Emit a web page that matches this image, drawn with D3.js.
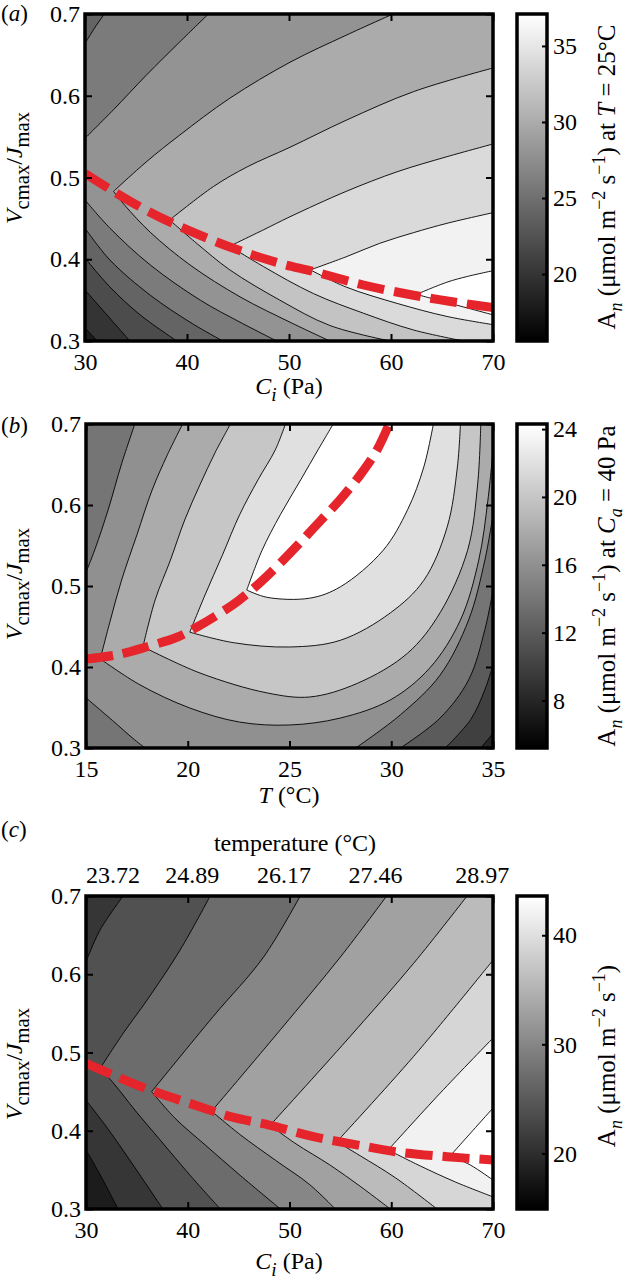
<!DOCTYPE html>
<html>
<head>
<meta charset="utf-8">
<script src="https://cdnjs.cloudflare.com/ajax/libs/d3/7.8.5/d3.min.js"></script>
<style>
  body { margin: 0; background: #fff; }
  svg text { font-family: "Liberation Serif", "Times New Roman", serif; fill: #000; white-space: pre; }
</style>
</head>
<body>
<svg id="fig" width="628" height="1285"></svg>
<script>
// ---- panel (a): An at T = 25 C, over Ci and Vcmax/Jmax ----
const aXTicks = [30, 40, 50, 60, 70];
const aYTicks = [0.3, 0.4, 0.5, 0.6, 0.7];
const aColorRange = [15.6, 37.1];
const aColorTicks = [20, 25, 30, 35];
// each contour: level and its pieces as [Ci, Vcmax/Jmax]
const aContours = [
  { level: 18, segs: [[[30, 0.316], [31.2, 0.3]]] },
  { level: 20, segs: [[[30, 0.3624], [32, 0.334], [34.4, 0.3]]] },
  { level: 22, segs: [[[30, 0.4015], [32.45, 0.366], [35.4, 0.332], [39, 0.3]]] },
  { level: 24, segs: [[[31.9, 0.7], [31, 0.684], [30, 0.664]],
                      [[30, 0.438], [32.45, 0.399], [36.4, 0.356], [40.3, 0.323], [43.5, 0.3]]] },
  { level: 26, segs: [[[42.1, 0.7], [39.3, 0.666], [36, 0.625], [32.8, 0.583], [30, 0.548]],
                      [[30, 0.4725], [32.45, 0.438], [36.4, 0.393], [41.3, 0.35], [45.2, 0.323], [48.8, 0.3]]] },
  { level: 28, segs: [[[60.2, 0.7], [55.6, 0.674], [50.1, 0.641], [44.2, 0.597], [39.3, 0.552], [36, 0.519], [32.8, 0.483]],
                      [[32.8, 0.483], [33.9, 0.466], [36.4, 0.433], [40.3, 0.393], [45.2, 0.354], [50.1, 0.323], [54, 0.3]]] },
  { level: 30, segs: [[[70, 0.634], [62.2, 0.605], [55.6, 0.57], [50.1, 0.537], [45.9, 0.513], [42.6, 0.489], [38.3, 0.448]],
                      [[38.3, 0.448], [40.9, 0.42], [44.2, 0.387], [49.1, 0.35], [54, 0.319], [59.9, 0.3]]] },
  { level: 32, segs: [[[70, 0.541], [65.5, 0.5255], [60.6, 0.507], [55.6, 0.483], [50.1, 0.452], [47.5, 0.436], [44.2, 0.416]],
                      [[44.2, 0.416], [47.5, 0.391], [52.4, 0.358], [57.3, 0.334], [62.2, 0.3135], [67.1, 0.3]]] },
  { level: 34, segs: [[[70, 0.457], [65.5, 0.444], [62.2, 0.4325], [58.9, 0.4195], [55.6, 0.403], [52.1, 0.387]],
                      [[52.1, 0.387], [55.6, 0.366], [60.6, 0.346], [65.5, 0.33], [70, 0.32]]] },
  { level: 36, segs: [[[70, 0.386], [67.5, 0.379], [65.5, 0.372], [62.5, 0.357]],
                      [[62.5, 0.357], [65.5, 0.347], [70, 0.332]]] }
];
const aOptimum = [[30, 0.505], [32.8, 0.483], [36, 0.46], [39.3, 0.44], [44.2, 0.415], [49.1, 0.395],
                  [52.4, 0.385], [57.3, 0.3685], [62.2, 0.356], [66, 0.348], [70, 0.341]];
const aPeak = [69, 0.35];

// ---- panel (b): An at Ca = 40 Pa, over T and Vcmax/Jmax ----
const bXTicks = [15, 20, 25, 30, 35];
const bYTicks = [0.3, 0.4, 0.5, 0.6, 0.7];
const bColorRange = [5.2, 24.3];
const bColorTicks = [8, 12, 16, 20, 24];
const bContours = [
  { level: 8, segs: [[[34.4, 0.3], [35, 0.318]]] },
  { level: 10, segs: [[[32.65, 0.3], [33.9, 0.335], [34.6, 0.372], [35, 0.4025]]] },
  { level: 12, segs: [[[30.45, 0.3], [32.4, 0.337], [33.8, 0.384], [34.6, 0.446], [35, 0.495]]] },
  { level: 14, segs: [[[17.4, 0.7], [16.75, 0.651], [16.1, 0.595], [15.45, 0.546], [15, 0.517]],
                      [[15, 0.362], [16.3, 0.334], [17.3, 0.312], [17.9, 0.3]],
                      [[28.25, 0.3], [30.45, 0.341], [32.4, 0.39], [33.8, 0.458], [34.6, 0.532], [35, 0.588]]] },
  { level: 16, segs: [[[19.75, 0.7], [19, 0.662], [18.25, 0.6185], [17.5, 0.563], [16.75, 0.5074], [16.2, 0.458], [15.7, 0.41]],
                      [[15.7, 0.41], [17.65, 0.378], [20.1, 0.3494], [22.55, 0.332], [25, 0.3284], [27.5, 0.337],
                       [29.95, 0.3593], [31.9, 0.399], [33.4, 0.458], [34.3, 0.532], [34.75, 0.606], [35, 0.668]]] },
  { level: 18, segs: [[[22.1, 0.7], [21.35, 0.665], [20.6, 0.625], [19.85, 0.5815], [19.15, 0.532], [18.4, 0.483], [17.8, 0.425]],
                      [[17.8, 0.425], [20.6, 0.3926], [23.9, 0.368], [26, 0.363], [28.35, 0.38], [30.8, 0.417],
                       [32.4, 0.467], [33.75, 0.544], [34.25, 0.627], [34.4, 0.7]]] },
  { level: 20, segs: [[[24.8, 0.7], [24.3, 0.668], [23.45, 0.631], [22.55, 0.588], [21.7, 0.538], [20.85, 0.489], [20.1, 0.443]],
                      [[20.1, 0.443], [22.25, 0.43], [25, 0.4247], [27.5, 0.433], [29.95, 0.4667], [31.6, 0.507],
                       [32.75, 0.573], [33.25, 0.647], [33.4, 0.7]]] },
  { level: 22, segs: [[[27.15, 0.7], [26.4, 0.668], [25.55, 0.631], [24.55, 0.588], [23.65, 0.544], [22.9, 0.495]],
                      [[22.9, 0.495], [23.9, 0.486], [26, 0.485], [27.5, 0.499], [29.6, 0.544], [30.8, 0.594],
                       [31.6, 0.647], [32.07, 0.7]]] }
];
const bOptimum = [[15, 0.41], [16.5, 0.415], [18, 0.425], [19.5, 0.437], [20.5, 0.45], [21.5, 0.465], [22.5, 0.482],
                  [23.5, 0.503], [24.5, 0.527], [25.5, 0.553], [26.5, 0.58], [27.5, 0.607], [28.5, 0.638],
                  [29.3, 0.668], [29.9, 0.7]];
const bPeak = [28.5, 0.66];

// ---- panel (c): An with temperature rising along Ci ----
const cXTicks = [30, 40, 50, 60, 70];
const cYTicks = [0.3, 0.4, 0.5, 0.6, 0.7];
const cColorRange = [14.9, 43.6];
const cColorTicks = [20, 30, 40];
const cTempAt = [32.6, 40.4, 49.4, 58.4, 68.9];
const cTempLabels = ["23.72", "24.89", "26.17", "27.46", "28.97"];
const cContours = [
  { level: 18, segs: [[[30, 0.3755], [31.4, 0.3435], [33.15, 0.3]]] },
  { level: 21, segs: [[[33.65, 0.7], [31.4, 0.657], [30, 0.616]],
                      [[30, 0.439], [31.9, 0.407], [34.3, 0.3625], [37.55, 0.3]]] },
  { level: 24, segs: [[[42.2, 0.7], [39.25, 0.631], [36, 0.567], [33.65, 0.5245], [31.4, 0.48]],
                      [[31.4, 0.48], [32.85, 0.4585], [34.8, 0.4265], [37.3, 0.388], [40.2, 0.3435], [43.2, 0.3]]] },
  { level: 27, segs: [[[51.05, 0.7], [47.45, 0.622], [42.5, 0.546], [36.45, 0.45]],
                      [[36.45, 0.45], [38.75, 0.416], [41.7, 0.382], [45.15, 0.343], [49.1, 0.3]]] },
  { level: 30, segs: [[[59.55, 0.7], [55, 0.622], [49.1, 0.529], [42.35, 0.425]],
                      [[42.35, 0.425], [45.15, 0.395], [48.6, 0.3625], [52, 0.331], [54.5, 0.3]]] },
  { level: 33, segs: [[[67.45, 0.7], [62.2, 0.614], [55.65, 0.516], [48.1, 0.407]],
                      [[48.1, 0.407], [50.55, 0.384], [54, 0.356], [56.95, 0.329], [59.9, 0.3]]] },
  { level: 36, segs: [[[70, 0.618], [62.2, 0.495], [54.65, 0.386]],
                      [[54.65, 0.386], [56.95, 0.368], [60.4, 0.34], [64.5, 0.3]]] },
  { level: 39, segs: [[[70, 0.5185], [64.8, 0.448], [59.7, 0.3755]],
                      [[59.7, 0.3755], [62.85, 0.355], [66.3, 0.3345], [70, 0.3155]]] },
  { level: 42, segs: [[[70, 0.429], [68, 0.4], [65.8, 0.368]],
                      [[65.8, 0.368], [67.8, 0.356], [70, 0.337]]] }
];
const cOptimum = [[30, 0.486], [32.7, 0.471], [36.3, 0.452], [40.2, 0.435], [44.2, 0.418], [48.1, 0.407],
                  [52.35, 0.3925], [56.6, 0.382], [60.55, 0.373], [65.5, 0.3668], [70, 0.3626]];
const cPeak = [69.3, 0.37];

// ---- drawing ----
const FS = 24;
const svg = d3.select("#fig");
const defs = svg.append("defs");

// text made of parts: {t, i: italic, sub, sup}
function richText(text, parts, fs, subRatio = 0.72) {
    let shift = 0;
    parts.forEach(p => {
        const target = p.sub ? fs * 0.28 : (p.sup ? -fs * 0.4 : 0);
        const ts = text.append("tspan").text(p.t);
        if (target !== shift) ts.attr("dy", target - shift);
        shift = target;
        if (p.i) ts.attr("font-style", "italic");
        if (p.sub || p.sup) ts.attr("font-size", fs * subRatio);
    });
}

// corners passed when walking the frame from one edge point to another
function boundaryWalk(from, to, box, dir) {
    const W = box.x1 - box.x0, H = box.y1 - box.y0, P = 2 * (W + H);
    const pos = p => {
        if (Math.abs(p[1] - box.y0) < 0.5) return p[0] - box.x0;
        if (Math.abs(p[0] - box.x1) < 0.5) return W + p[1] - box.y0;
        if (Math.abs(p[1] - box.y1) < 0.5) return W + H + box.x1 - p[0];
        return 2 * W + H + box.y1 - p[1];
    };
    const corners = [[0, [box.x0, box.y0]], [W, [box.x1, box.y0]], [W + H, [box.x1, box.y1]], [2 * W + H, [box.x0, box.y1]]];
    const s0 = pos(from), s1 = pos(to);
    const off = s => (((dir > 0 ? s - s0 : s0 - s) % P) + P) % P;
    const d = off(s1);
    return corners.filter(c => off(c[0]) > 0 && off(c[0]) < d)
        .sort((a, b) => off(a[0]) - off(b[0]))
        .map(c => c[1]);
}

function styleAxis(sel) {
    sel.select(".domain").remove();
    sel.selectAll(".tick line").attr("stroke", "#000").attr("stroke-width", 2);
    sel.selectAll(".tick text").attr("font-size", FS).attr("fill", "#000")
        .attr("font-family", '"Liberation Serif", "Times New Roman", serif');
}

function drawPanel(p) {
    const box = p.box;
    const x = d3.scaleLinear().domain(p.xDomain).range([box.x0, box.x1]);
    const y = d3.scaleLinear().domain([0.3, 0.7]).range([box.y1, box.y0]);
    const gray = d3.scaleLinear().domain(p.cDomain).range(["#000", "#fff"]).clamp(true);
    const toPx = d => [x(d[0]), y(d[1])];
    const smooth = d3.line().curve(d3.curveCatmullRom.alpha(0.5));
    const peak = toPx(p.peak);
    const levels = p.contours.map(c => c.level);

    const g = svg.append("g");
    defs.append("clipPath").attr("id", "clip-" + p.id).append("rect")
        .attr("x", box.x0).attr("y", box.y0).attr("width", box.x1 - box.x0).attr("height", box.y1 - box.y0);
    const plot = g.append("g").attr("clip-path", `url(#clip-${p.id})`);

    // filled bands, painted from the lowest level up
    plot.append("rect").attr("x", box.x0).attr("y", box.y0)
        .attr("width", box.x1 - box.x0).attr("height", box.y1 - box.y0)
        .attr("fill", gray(levels[0]));
    p.contours.forEach((c, i) => {
        const segs = c.segs.map(s => s.map(toPx));
        const raw = segs.flat();
        const start = raw[0], end = raw[raw.length - 1];
        let closing = boundaryWalk(end, start, box, 1);
        if (!d3.polygonContains(raw.concat(closing), peak)) closing = boundaryWalk(end, start, box, -1);
        let d = segs.map((s, k) => { const str = smooth(s); return k ? "L" + str.slice(1) : str; }).join("");
        d += closing.map(q => `L${q[0]},${q[1]}`).join("") + "Z";
        const upper = i + 1 < levels.length ? levels[i + 1] : p.cDomain[1];
        plot.append("path").attr("d", d).attr("fill", gray(upper));
    });

    // contour lines
    p.contours.forEach(c => c.segs.forEach(s => {
        plot.append("path").attr("d", smooth(s.map(toPx)))
            .attr("fill", "none").attr("stroke", "#000").attr("stroke-width", 0.9);
    }));

    // optimum Vcmax/Jmax
    plot.append("path").attr("d", d3.line().curve(d3.curveCatmullRom)(p.optimum.map(toPx)))
        .attr("fill", "none").attr("stroke", "#e5242b").attr("stroke-width", 9)
        .attr("stroke-dasharray", "27,10");

    // axes, MATLAB style ticks inside the box
    g.append("g").attr("transform", `translate(0,${box.y1})`)
        .call(d3.axisBottom(x).tickValues(p.xTicks).tickSize(-7).tickPadding(12).tickFormat(d3.format("d")))
        .call(styleAxis);
    g.append("g").attr("transform", `translate(0,${box.y0})`)
        .call(d3.axisTop(x).tickValues(p.xTicks).tickSize(-7).tickFormat(""))
        .call(styleAxis);
    g.append("g").attr("transform", `translate(${box.x0},0)`)
        .call(d3.axisLeft(y).tickValues(p.yTicks).tickSize(-7).tickPadding(5).tickFormat(d3.format(".1f")))
        .call(styleAxis);
    g.append("g").attr("transform", `translate(${box.x1},0)`)
        .call(d3.axisRight(y).tickValues(p.yTicks).tickSize(-7).tickFormat(""))
        .call(styleAxis);
    g.append("rect").attr("x", box.x0).attr("y", box.y0)
        .attr("width", box.x1 - box.x0).attr("height", box.y1 - box.y0)
        .attr("fill", "none").attr("stroke", "#000").attr("stroke-width", 3.5);

    // colour bar
    const cb = { x0: 517, x1: 547 };
    const cy = d3.scaleLinear().domain(p.cDomain).range([box.y1, box.y0]);
    const grad = defs.append("linearGradient").attr("id", "grad-" + p.id)
        .attr("x1", 0).attr("y1", 1).attr("x2", 0).attr("y2", 0);
    d3.range(0, 1.0001, 0.1).forEach(t => {
        grad.append("stop").attr("offset", t)
            .attr("stop-color", gray(p.cDomain[0] + t * (p.cDomain[1] - p.cDomain[0])));
    });
    g.append("rect").attr("x", cb.x0).attr("y", box.y0).attr("width", cb.x1 - cb.x0)
        .attr("height", box.y1 - box.y0).attr("fill", `url(#grad-${p.id})`);
    g.append("g").attr("transform", `translate(${cb.x1},0)`)
        .call(d3.axisRight(cy).tickValues(p.cTicks).tickSize(-5).tickPadding(6).tickFormat(d3.format("d")))
        .call(styleAxis);
    g.append("rect").attr("x", cb.x0).attr("y", box.y0).attr("width", cb.x1 - cb.x0)
        .attr("height", box.y1 - box.y0).attr("fill", "none").attr("stroke", "#000").attr("stroke-width", 3.5);

    // labels
    richText(g.append("text").attr("x", 1).attr("y", p.tagY).attr("font-size", 23),
        [{ t: "(" }, { t: p.id, i: true }, { t: ")" }], 23);
    richText(g.append("text").attr("transform", `translate(22,${p.yLabelY}) rotate(-90)`)
        .attr("text-anchor", "middle").attr("font-size", FS),
        [{ t: "V", i: true }, { t: "cmax", sub: true }, { t: "/" }, { t: "J", i: true }, { t: "max", sub: true }], FS, 0.86);
    richText(g.append("text").attr("x", 289).attr("y", p.xLabelY).attr("text-anchor", "middle").attr("font-size", FS),
        p.xLabel, FS, 0.8);
    richText(g.append("text").attr("transform", `translate(615,${p.cLabelY}) rotate(-90)`)
        .attr("text-anchor", "middle").attr("font-size", 25),
        p.cLabel, 25);

    return x;
}

const anUnits = [{ t: "A" }, { t: "n", i: true, sub: true }, { t: " (μmol m" }, { t: "−2", sup: true },
                 { t: " s" }, { t: "−1", sup: true }, { t: ")" }];
const ciLabel = [{ t: "C", i: true }, { t: "i", i: true, sub: true }, { t: " (Pa)" }];

drawPanel({
    id: "a", box: { x0: 85, x1: 493, y0: 14, y1: 341 },
    xDomain: [30, 70], xTicks: aXTicks, yTicks: aYTicks,
    cDomain: aColorRange, cTicks: aColorTicks,
    contours: aContours, optimum: aOptimum, peak: aPeak,
    tagY: 21, yLabelY: 168, xLabelY: 394, cLabelY: 177,
    xLabel: ciLabel,
    cLabel: anUnits.concat([{ t: " at " }, { t: "T", i: true }, { t: " = 25°C" }])
});

drawPanel({
    id: "b", box: { x0: 86, x1: 493, y0: 424, y1: 748 },
    xDomain: [15, 35], xTicks: bXTicks, yTicks: bYTicks,
    cDomain: bColorRange, cTicks: bColorTicks,
    contours: bContours, optimum: bOptimum, peak: bPeak,
    tagY: 433, yLabelY: 584, xLabelY: 803, cLabelY: 586,
    xLabel: [{ t: "T", i: true }, { t: " (°C)" }],
    cLabel: anUnits.concat([{ t: " at " }, { t: "C", i: true }, { t: "a", i: true, sub: true }, { t: " = 40 Pa" }])
});

const xc = drawPanel({
    id: "c", box: { x0: 86, x1: 493, y0: 896, y1: 1209 },
    xDomain: [30, 70], xTicks: cXTicks, yTicks: cYTicks,
    cDomain: cColorRange, cTicks: cColorTicks,
    contours: cContours, optimum: cOptimum, peak: cPeak,
    tagY: 837, yLabelY: 1064, xLabelY: 1269, cLabelY: 1056,
    xLabel: ciLabel,
    cLabel: anUnits
});

// temperature that goes with each Ci in panel (c)
svg.append("g").attr("transform", "translate(0,896)")
    .call(d3.axisTop(xc).tickValues(cTempAt).tickSize(0).tickPadding(13)
        .tickFormat((d, i) => cTempLabels[i]))
    .call(styleAxis);
svg.append("text").attr("x", 295).attr("y", 851).attr("text-anchor", "middle")
    .attr("font-size", FS).text("temperature (°C)");
</script>
</body>
</html>
